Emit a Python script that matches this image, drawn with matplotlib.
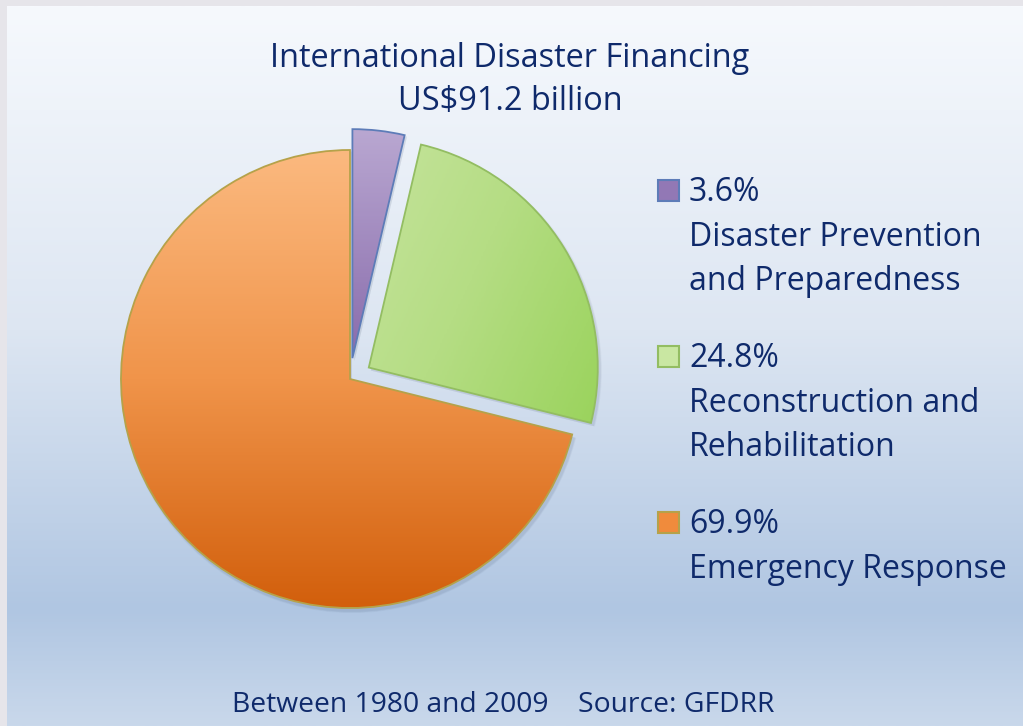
import numpy as np
import matplotlib.pyplot as plt
from matplotlib.colors import LinearSegmentedColormap
from matplotlib.patches import Rectangle, Wedge

# shares of international disaster financing, 1980-2009
shares = [3.6, 24.8, 69.9]
names = ['Disaster Prevention\nand Preparedness',
         'Reconstruction and\nRehabilitation',
         'Emergency Response']
title = 'International Disaster Financing\nUS$91.2 billion'
footer = 'Between 1980 and 2009    Source: GFDRR'

fills = [['#b9a7d1', '#8466a8', '#9077b4'],
         ['#cfe8ab', '#b5dd84', '#8fcf4c'],
         ['#fbb97f', '#f0944a', '#d25f0c']]
edges = ['#5d7cb8', '#93bd62', '#b5a24a']
navy = '#0f2a6b'

plt.rcParams['font.family'] = ['Open Sans', 'DejaVu Sans']

W, H = 1023, 726
fig = plt.figure(figsize=(W / 100, H / 100), dpi=100, facecolor='#e6e5ea')
ax = fig.add_axes([0, 0, 1, 1])

# panel background
bg = LinearSegmentedColormap.from_list(
    'bg', [(0, '#f6f9fd'), (0.45, '#dde6f2'), (0.84, '#b0c6e2'), (1, '#c9d8eb')])
ax.imshow(np.linspace(0, 1, 256).reshape(-1, 1), cmap=bg, aspect='auto',
          extent=[7, W, 0, H - 6], origin='upper', zorder=0)

cx, cy, r = 350, H - 379, 229
wedges, _ = ax.pie(shares, radius=r, center=(cx, cy), startangle=90,
                   counterclock=False, explode=[21, 22, 0],
                   wedgeprops=dict(linewidth=1.3))

for i, w in enumerate(wedges):
    # soft drop shadow
    for k, a in [(7, 0.03), (5, 0.04), (3, 0.05)]:
        sh = Wedge((w.center[0] + 2, w.center[1] - 3), r + k * 0.3, w.theta1, w.theta2,
                   facecolor='#203050', alpha=a, edgecolor='none', zorder=1)
        ax.add_patch(sh)
    x0, y0 = w.center
    ext = [x0 - r, x0 + r, y0 - r, y0 + r]
    gx, gy = np.meshgrid(np.linspace(0, 1, 200), np.linspace(1, 0, 200))
    if i == 1:
        g = np.clip(0.75 * gx + 0.35 * (1 - gy) - 0.2, 0, 1)
    else:
        g = 1 - gy
    stops = 0.55 if i == 0 else 0.5
    cmap = LinearSegmentedColormap.from_list(
        'f%d' % i, [(0, fills[i][0]), (stops, fills[i][1]), (1, fills[i][2])])
    im = ax.imshow(g, cmap=cmap, extent=ext, origin='upper', aspect='auto', zorder=2)
    im.set_clip_path(w)
    w.set_facecolor('none')
    w.set_edgecolor(edges[i])
    w.set_zorder(3)

ax.set_xlim(0, W)
ax.set_ylim(0, H)
ax.set_aspect('auto')
ax.axis('off')

# titles
ax.text(510, H - 67, 'International Disaster Financing', ha='center', va='baseline',
        fontsize=23.4, color=navy)
ax.text(510, H - 110, 'US$91.2 billion', ha='center', va='baseline',
        fontsize=23.4, color=navy)
ax.text(503, H - 712, footer, ha='center', va='baseline', fontsize=20.3, color=navy)

# legend with stacked labels
top = [201, 367, 533]
sq_fill = ['#9278b5', '#c9e7a2', '#f08b3c']
for i, s in enumerate(shares):
    ax.add_patch(Rectangle((658, H - top[i]), 21, 21, facecolor=sq_fill[i],
                           edgecolor=edges[i], linewidth=1.5, zorder=3))
    lines = ['%.1f%%' % s] + names[i].split('\n')
    for j, t in enumerate(lines):
        ax.text(689, H - top[i] - 44.5 * j, t, ha='left', va='baseline',
                fontsize=23, color=navy)

fig.savefig('out.png', dpi=100, facecolor=fig.get_facecolor())
